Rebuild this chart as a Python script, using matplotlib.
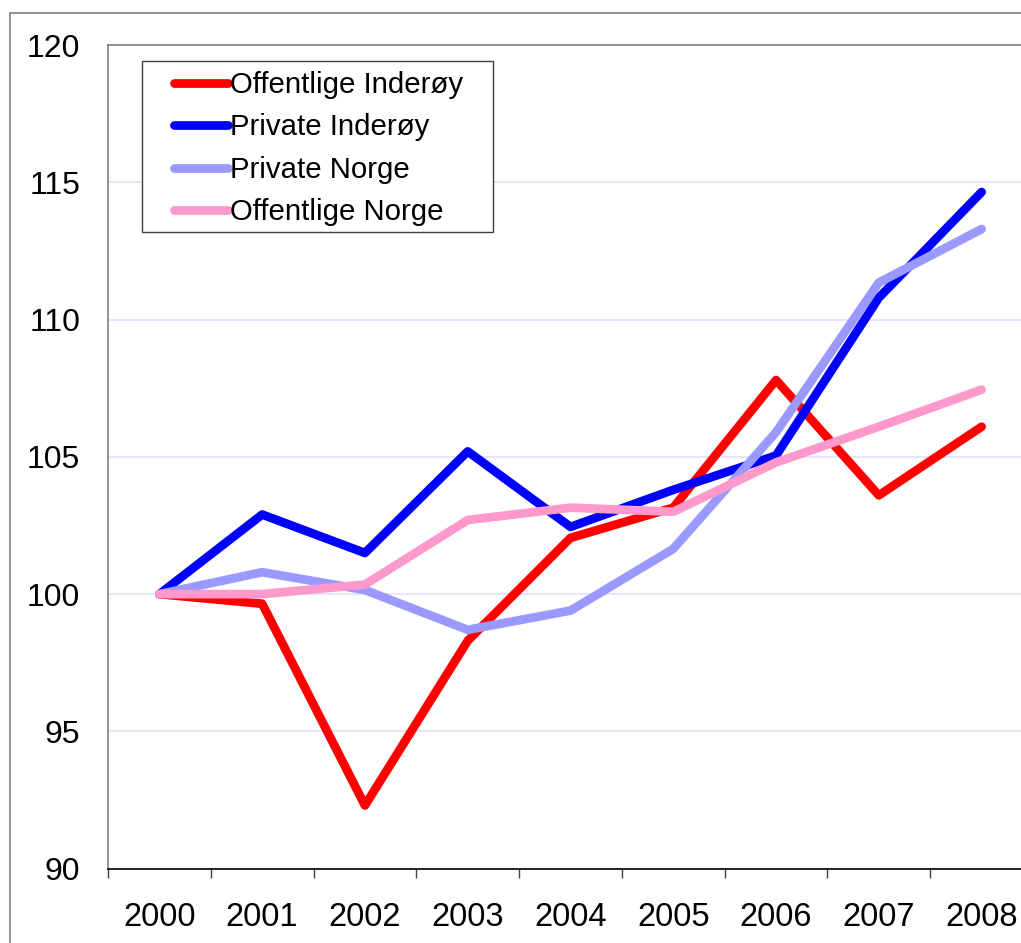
import matplotlib
matplotlib.use("Agg")
import matplotlib.pyplot as plt
from matplotlib.patches import Rectangle
import numpy as np

plt.rcParams['font.family'] = ['Liberation Sans', 'DejaVu Sans']

years = ["2000", "2001", "2002", "2003", "2004", "2005", "2006", "2007", "2008"]

off_inderoy = [100, 99.65, 92.3, 98.3, 102.05, 103.15, 107.8, 103.6, 106.1]
priv_inderoy = [100, 102.9, 101.5, 105.2, 102.45, 103.8, 105.05, 110.8, 114.65]
priv_norge = [100, 100.8, 100.15, 98.7, 99.4, 101.65, 105.9, 111.35, 113.3]
off_norge = [100, 100.0, 100.35, 102.7, 103.15, 103.0, 104.8, 106.1, 107.45]

W, H = 1021, 943
fig = plt.figure(figsize=(W / 100, H / 100), dpi=100)

# outer chart border (Excel style), runs off the picture right and bottom
fig.add_artist(Rectangle((10 / W, -0.1), 1.2, 1 - 13 / H + 0.1,
                         transform=fig.transFigure, fill=False,
                         edgecolor='#808080', linewidth=1.2))

ax = fig.add_axes([108 / W, 1 - 868.6 / H, (1033 - 108) / W, (868.6 - 45.2) / H])

x = np.arange(len(years))
lw = 6.3
ax.plot(x, off_inderoy, color='#FF0000', lw=lw, solid_capstyle='round', label='Offentlige Inderøy')
ax.plot(x, priv_inderoy, color='#0000FF', lw=lw, solid_capstyle='round', label='Private Inderøy')
ax.plot(x, priv_norge, color='#9999FF', lw=lw, solid_capstyle='round', label='Private Norge')
ax.plot(x, off_norge, color='#FF99CC', lw=lw, solid_capstyle='round', label='Offentlige Norge')

ax.set_xlim(-0.5, 8.5)
ax.set_ylim(90, 120)
ax.set_yticks(range(90, 121, 5))
ax.yaxis.grid(True, color='#E0E0FF', lw=1.2)
ax.set_axisbelow(True)

ax.set_xticks(x)
ax.set_xticklabels(years)
ax.set_xticks(np.arange(-0.5, 9, 1), minor=True)
ax.tick_params(axis='x', which='major', length=0, pad=24, labelsize=23.5)
ax.tick_params(axis='x', which='minor', length=6.5, width=1, color='#404040', direction='out')
ax.tick_params(axis='y', length=0, pad=20, labelsize=23)

for s in ['left', 'top', 'right']:
    ax.spines[s].set_color('#808080')
    ax.spines[s].set_linewidth(1.2)
ax.spines['bottom'].set_color('#000000')
ax.spines['bottom'].set_linewidth(1.2)

# legend box drawn separately so its padding matches
ax.add_patch(Rectangle((142 / W, 1 - 232 / H), (493 - 142) / W, (232 - 61) / H,
                       transform=fig.transFigure, facecolor='white', clip_on=False,
                       edgecolor='#404040', linewidth=1, zorder=5))
leg = ax.legend(loc='upper left', bbox_to_anchor=(174 / W, 1 - 71 / H),
                bbox_transform=fig.transFigure, frameon=False, fontsize=21.2,
                handlelength=1.85, handletextpad=0.05, labelspacing=0.49,
                borderaxespad=0, borderpad=0)
leg.set_zorder(6)

fig.savefig("out.png", dpi=100)
